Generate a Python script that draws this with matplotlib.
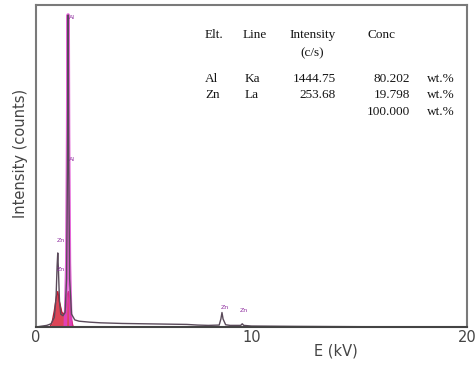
import matplotlib
matplotlib.use("Agg")
import matplotlib.pyplot as plt

# Spectrum (energy in keV, counts in arbitrary units)
energy = [0.0, 0.2, 0.5, 0.7, 0.85, 0.93, 0.98, 1.01, 1.04, 1.09, 1.15, 1.25, 1.35, 1.42, 1.46, 1.49, 1.52,
          1.56, 1.65, 1.8, 2.0, 2.5, 3.0, 4.0, 5.0, 6.0, 7.0, 7.5, 8.0, 8.5, 8.58, 8.63, 8.68, 8.8,
          9.0, 9.5, 9.57, 9.64, 10.0, 12.0, 15.0, 20.0]
counts = [0, 2, 5, 10, 30, 90, 190, 230, 180, 80, 40, 35, 45, 150, 500, 969, 500,
          150, 40, 22, 18, 15, 13, 11, 10, 9, 8, 6, 5, 6, 25, 45, 25, 7,
          5, 5, 10, 5, 3, 2, 1, 0]

# Fitted peak area (red)
fit_energy = [0.65, 0.75, 0.85, 0.95, 1.01, 1.08, 1.2, 1.3, 1.4, 1.45, 1.5, 1.55, 1.62, 1.72]
fit_counts = [0, 15, 50, 95, 110, 80, 45, 40, 60, 100, 110, 90, 30, 0]

# Al K peak overlay (magenta)
al_energy = [1.36, 1.43, 1.47, 1.49, 1.51, 1.55, 1.62]
al_counts = [0, 200, 600, 969, 600, 200, 0]

# Peak labels
label_text = ["Al", "Al", "Zn", "Zn", "Zn", "Zn"]
label_e = [1.55, 1.55, 0.95, 0.95, 8.55, 9.45]
label_c = [960, 520, 270, 178, 60, 50]

# Quantification table
tbl_elt = ["Al", "Zn"]
tbl_line = ["Ka", "La"]
tbl_int = ["1444.75", "253.68"]
tbl_conc = ["80.202", "19.798"]
tbl_total = "100.000"

xticks = [0, 10, 20]

fig = plt.figure(figsize=(4.76, 3.65), dpi=100)
ax = fig.add_axes([36/476, 38/365, 431/476, 322/365])

ax.fill_between(fit_energy, fit_counts, color="#d8243a", alpha=0.85, lw=0)
ax.plot(fit_energy, fit_counts, color="#c01830", lw=1.0)
ax.plot(al_energy, al_counts, color="#e040d0", lw=2.6, alpha=0.8)
ax.plot(energy, counts, color="#5a4a5a", lw=1.0)

for t, e, c in zip(label_text, label_e, label_c):
    ax.text(e, c, t, fontsize=4.5, color="#9030a0", ha="left", va="center")

ax.set_xlim(0, 20)
ax.set_ylim(0, 1000)
ax.set_xticks(xticks)
ax.set_xticklabels([str(v) for v in xticks], fontsize=10.5, color="#444444")
ax.set_yticks([])
ax.tick_params(axis="x", length=0, pad=2)
for s in ax.spines.values():
    s.set_color("#7a7a7a")
    s.set_linewidth(1.5)
ax.spines["bottom"].set_color("#444444")

fig.text(336/476, 1 - 351/365, "E (kV)", fontsize=10.5, color="#444444", ha="center", va="center")
fig.text(21/476, 1 - 153/365, "Intensity (counts)", fontsize=10.5, color="#444444",
         ha="center", va="center", rotation=90)

# Table text in pixel coordinates
def ftxt(x, y, s, ha="left"):
    fig.text(x/476, 1 - y/365, s, fontsize=9.5, family="Liberation Serif",
             color="#151515", ha=ha, va="center")

ftxt(205, 35, "Elt.")
ftxt(243, 35, "Line")
ftxt(289, 35, "Intensity")
ftxt(368, 35, "Conc")
ftxt(312, 53, "(c/s)", ha="center")
rows_y = [79, 95]
for i, y in enumerate(rows_y):
    ftxt(205, y, tbl_elt[i])
    ftxt(245, y, tbl_line[i])
    ftxt(336, y, tbl_int[i], ha="right")
    ftxt(410, y, tbl_conc[i], ha="right")
    ftxt(427, y, "wt.%")
ftxt(410, 112, tbl_total, ha="right")
ftxt(427, 112, "wt.%")

fig.savefig("out.png", dpi=100, facecolor="white")
